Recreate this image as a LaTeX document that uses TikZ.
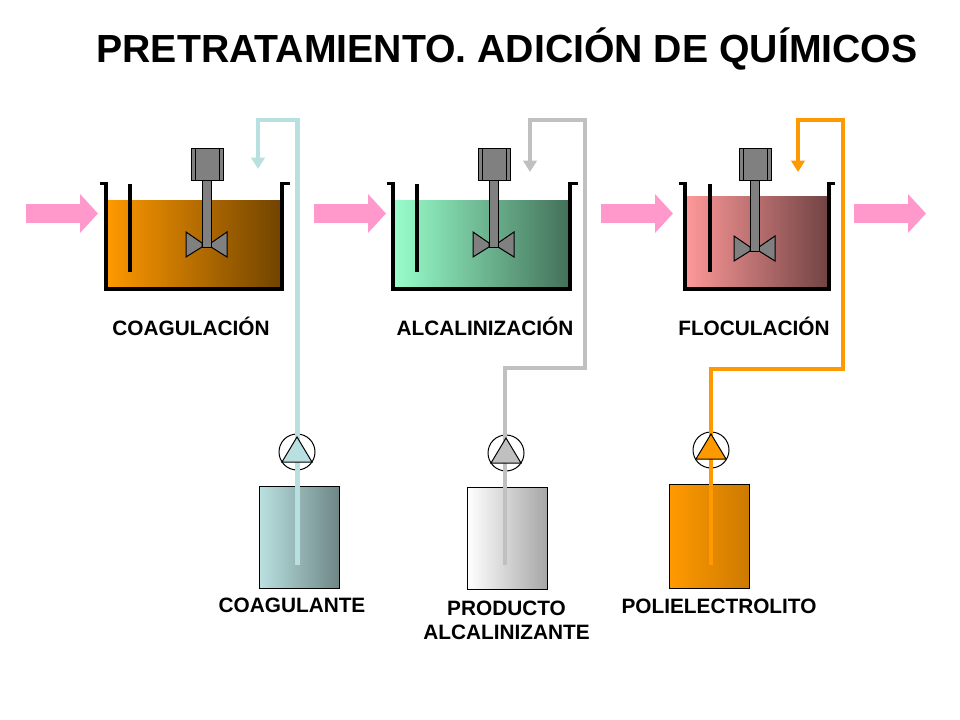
\documentclass[tikz,border=0pt]{standalone}
\usepackage{fontspec}
\setmainfont{Liberation Sans}
\usetikzlibrary{arrows.meta}
\definecolor{pinkflow}{HTML}{FF99CC}
\definecolor{coagpipe}{HTML}{B9E0E0}
\definecolor{coagdark}{HTML}{6F8686}
\definecolor{alkpipe}{HTML}{C0C0C0}
\definecolor{alkdark}{HTML}{A6A6A6}
\definecolor{orangepipe}{HTML}{FF9900}
\definecolor{orangemid}{HTML}{CC7A00}
\definecolor{orangedark}{HTML}{704300}
\definecolor{greenliq}{HTML}{99FFCC}
\definecolor{greendark}{HTML}{437059}
\definecolor{redliq}{HTML}{FF9999}
\definecolor{reddark}{HTML}{704343}
\definecolor{mixgrey}{HTML}{808080}
\tikzset{
  flow/.style={draw=pinkflow,line width=14.25pt,-{Triangle[length=13.5pt,width=28.5pt]}},
  pipeline/.style={line width=3.4pt,line join=miter,-{Triangle[length=8.5pt,width=10pt]}},
  wall/.style={line width=2.6pt,line join=miter},
  baffle/.style={line width=2.6pt},
  mixpart/.style={draw=black,fill=mixgrey,line width=0.75pt,line join=miter},
  bottle/.style={draw=black,line width=0.75pt,inner sep=0pt,minimum width=59.5pt,rectangle},
  pump/.style={circle,draw=black,line width=0.75pt,inner sep=0pt,minimum size=27pt},
  label/.style={font=\fontsize{15.6}{18}\selectfont\bfseries,align=center,inner sep=0pt},
  titletext/.style={font=\fontsize{29.4}{34}\selectfont\bfseries,inner sep=0pt},
}
% xL, xR, liquid top, colour left, colour right, baffle x, right lip
\newcommand{\tankdraw}[7]{%
  \path[left color=#4,middle color=#4!65!#5,right color=#5] (#1,#3+0.5) rectangle (#2,289);
  \draw[wall] (#1-6,183.5) -- (#1,183.5) -- (#1,289) -- (#2,289) -- (#2,183.5) -- (#7,183.5);
  \draw[baffle] (#6,184) -- (#6,272);
}
% x offset, blade y offset
\newcommand{\mixerdraw}[2]{%
  \begin{scope}[shift={(#1,0)}]
    \draw[mixpart] (186,{232+#2}) -- (202,{243+#2}) -- (202,{247+#2}) -- (186,{257+#2}) -- cycle;
    \draw[mixpart] (227,{232+#2}) -- (211,{243+#2}) -- (211,{247+#2}) -- (227,{257+#2}) -- cycle;
    \draw[mixpart] (202,181) rectangle (211,{248+#2});
    \draw[mixpart] (191.5,148.5) rectangle (223.5,180.5);
    \draw[black,line width=0.75pt] (195.5,148.5) -- (195.5,180.5) (219.5,148.5) -- (219.5,180.5);
  \end{scope}
}
% apex x, apex y, half width, fill
\newcommand{\pumptri}[4]{%
  \draw[draw=black,fill=#4,line width=0.75pt,line join=miter] (#1,#2) -- (#1+#3,#2+25) -- (#1-#3,#2+25) -- cycle;
}
\begin{document}
\begin{tikzpicture}[x=0.75pt,y=-0.75pt]
\useasboundingbox (0,0) rectangle (960,720);

\node[titletext] (title) at (507,49) {PRETRATAMIENTO. ADICIÓN DE QUÍMICOS};

% flow arrows
\coordinate (f1a) at (26,213.5);  \coordinate (f1b) at (98,213.5);
\coordinate (f2a) at (314,213.5); \coordinate (f2b) at (386,213.5);
\coordinate (f3a) at (601,213.5); \coordinate (f3b) at (673,213.5);
\coordinate (f4a) at (854,213.5); \coordinate (f4b) at (926,213.5);
\draw[flow] (f1a) -- (f1b);
\draw[flow] (f2a) -- (f2b);
\draw[flow] (f3a) -- (f3b);
\draw[flow] (f4a) -- (f4b);

% tanks
\tankdraw{106}{282}{200}{orangepipe}{orangedark}{130}{290}
\tankdraw{393}{570}{200}{greenliq}{greendark}{417}{578}
\tankdraw{685}{829}{196}{redliq}{reddark}{710}{835}
\mixerdraw{0}{0}
\mixerdraw{287}{0}
\mixerdraw{548}{4}

% bottles
\node[bottle,minimum height=76pt,left color=coagpipe,right color=coagdark] (b1) at (299.5,537.5) {};
\node[bottle,minimum height=76pt,left color=white,right color=alkdark] (b2) at (507.5,538.5) {};
\node[bottle,minimum height=78pt,left color=orangepipe,right color=orangemid] (b3) at (709.5,536) {};

% pumps
\node[pump] (p1) at (297,452) {};
\node[pump] (p2) at (506,453) {};
\node[pump] (p3) at (711,450) {};

% pipes
\coordinate (c1a) at (297.5,565); \coordinate (c1b) at (297.5,120); \coordinate (c1c) at (258,120); \coordinate (c1d) at (258,169);
\coordinate (c2a) at (505,565); \coordinate (c2b) at (505,368); \coordinate (c2c) at (585,368); \coordinate (c2d) at (585,120); \coordinate (c2e) at (530,120); \coordinate (c2f) at (530,172);
\coordinate (c3a) at (711,565); \coordinate (c3b) at (711,369); \coordinate (c3c) at (843,369); \coordinate (c3d) at (843,120); \coordinate (c3e) at (798,120); \coordinate (c3f) at (798,172);
\draw[pipeline,draw=coagpipe] (c1a) -- (c1b) -- (c1c) -- (c1d);
\draw[pipeline,draw=alkpipe] (c2a) -- (c2b) -- (c2c) -- (c2d) -- (c2e) -- (c2f);
\draw[pipeline,draw=orangepipe] (c3a) -- (c3b) -- (c3c) -- (c3d) -- (c3e) -- (c3f);

% pump triangles
\pumptri{297}{437}{15}{coagpipe}
\pumptri{506}{438}{15}{alkpipe}
\pumptri{711}{434}{15}{orangepipe}

% labels
\node[label] (l1) at (191,326) {COAGULACIÓN};
\node[label] (l2) at (485,326) {ALCALINIZACIÓN};
\node[label] (l3) at (754,326) {FLOCULACIÓN};
\node[label] (l4) at (292,605) {COAGULANTE};
\node[label] (l5) at (506.5,620) {PRODUCTO\\ALCALINIZANTE};
\node[label] (l6) at (719,606) {POLIELECTROLITO};
\end{tikzpicture}
\end{document}
